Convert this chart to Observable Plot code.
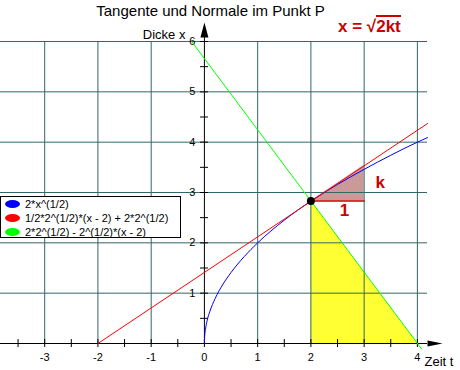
<!DOCTYPE html>
<html>
<head>
<meta charset="utf-8">
<script src="https://cdn.jsdelivr.net/npm/d3@7"></script>
<script src="https://cdn.jsdelivr.net/npm/@observablehq/plot@0.6"></script>
<style>
  body { margin: 0; background: #fff; }
  #wrap { position: relative; width: 460px; height: 370px; font-family: "Liberation Sans", Arial, sans-serif; }
  #legend { position: absolute; left: 0; top: 196px; width: 181px; height: 42px; box-sizing: border-box;
            border: 1px solid #000; background: #fff; font-size: 11px; color: #000; }
  #legend .item { position: relative; height: 14px; line-height: 14px; padding-left: 24px; white-space: nowrap; }
  #legend .sw { position: absolute; left: 4px; top: 3px; width: 15px; height: 8px; border-radius: 50%; }
  #formula { position: absolute; left: 338px; top: 17px; font: bold 17px "Liberation Sans", Arial, sans-serif; color: #cc0000; white-space: nowrap; line-height: 20px; }
  #formula .ov { border-top: 2px solid #cc0000; padding-top: 0px; }
</style>
</head>
<body>
<div id="wrap"></div>
<script>
// ---- data ----
const title = "Tangente und Normale im Punkt P";
const xAxisLabel = "Zeit t";
const yAxisLabel = "Dicke x";

const gridX = [-3, -2, -1, 1, 2, 3, 4];
const gridY = [1, 2, 3, 4, 5, 6];
const xTickValues = [-3.5, -3, -2.5, -2, -1.5, -1, -0.5, 0, 0.5, 1, 1.5, 2, 2.5, 3, 3.5, 4];
const yTickValues = [0.5, 1, 1.5, 2, 2.5, 3, 3.5, 4, 4.5, 5, 5.5, 6];
const xTickLabels = [-3, -2, -1, 0, 1, 2, 3, 4];
const yTickLabels = [1, 2, 3, 4, 5, 6];

// blue curve 2*x^(1/2)
const curveT = [0, 0.002, 0.01, 0.02, 0.05, 0.1, 0.2, 0.35, 0.5, 0.75, 1, 1.5, 2, 2.5, 3, 3.5, 4, 4.19];
const curveX = [0, 0.09, 0.2, 0.28, 0.45, 0.63, 0.89, 1.18, 1.41, 1.73, 2, 2.45, 2.83, 3.16, 3.46, 3.74, 4, 4.09];
// red tangent
const tangentT = [-2, 4.19];
const tangentX = [0, 4.37];
// green normal
const normalT = [-0.24, 4.08];
const normalX = [6, -0.11];
// point P
const pointT = [2];
const pointX = [2.83];
// yellow area under the normal
const fillT = [2, 4];
const fillX = [2.83, 0];
// slope triangle
const slopeT = [2, 3];
const slopeLow = [2.83, 2.83];
const slopeHigh = [2.83, 3.54];
const slopeLabels = ["1", "k"];
const slopeLabelT = [2.63, 3.3];
const slopeLabelX = [2.64, 3.2];

const legendLabels = ["2*x^(1/2)", "1/2*2^(1/2)*(x - 2) + 2*2^(1/2)", "2*2^(1/2) - 2^(1/2)*(x - 2)"];
const legendColors = ["#0000ff", "#ff0000", "#00ff00"];

// ---- build ----
const zip = (a, b) => a.map((v, i) => ({t: v, x: b[i]}));
const curve = zip(curveT, curveX);
const tangent = zip(tangentT, tangentX);
const normal = zip(normalT, normalX);
const fillArea = zip(fillT, fillX);
const slope = slopeT.map((t, i) => ({t, lo: slopeLow[i], hi: slopeHigh[i]}));
const point = zip(pointT, pointX);
const slopeText = slopeLabels.map((s, i) => ({s, t: slopeLabelT[i], x: slopeLabelX[i]}));

const gridColor = "#336666";
const font = "Liberation Sans, Arial, sans-serif";

const arrowUp = {draw(ctx) {
  ctx.moveTo(0, -19); ctx.lineTo(4, -4); ctx.lineTo(-4, -4); ctx.closePath();
  ctx.moveTo(-0.5, -4); ctx.lineTo(0.5, -4); ctx.lineTo(0.5, 0); ctx.lineTo(-0.5, 0); ctx.closePath();
}};
const arrowRight = {draw(ctx) {
  ctx.moveTo(15, 0); ctx.lineTo(0, -3); ctx.lineTo(0, 3); ctx.closePath();
}};

const chart = Plot.plot({
  width: 460,
  height: 370,
  marginLeft: 0,
  marginRight: 33,
  marginTop: 41,
  marginBottom: 27,
  x: {domain: [-3.83, 4.19], axis: null},
  y: {domain: [0, 6], axis: null},
  style: {background: "#fff", overflow: "visible", fontFamily: font},
  marks: [
    Plot.areaY(fillArea, {x: "t", y: "x", fill: "#ffff33", curve: "linear"}),
    Plot.areaY(slope, {x: "t", y1: "lo", y2: "hi", fill: "#cc9999"}),
    Plot.ruleX(gridX, {stroke: gridColor, strokeWidth: 1}),
    Plot.ruleY(gridY, {stroke: gridColor, strokeWidth: 1}),
    Plot.line(slope, {x: "t", y: "lo", stroke: "#cc0000", strokeWidth: 1.5}),
    // axes
    Plot.ruleY([0], {stroke: "#000", strokeWidth: 1}),
    Plot.ruleX([0], {stroke: "#000", strokeWidth: 1}),
    Plot.tickX(xTickValues, {x: d => d, stroke: "#000", insetTop: 298, insetBottom: -4}),
    Plot.tickY(yTickValues, {y: d => d, stroke: "#000", insetLeft: 200, insetRight: 219}),
    Plot.dot([0], {x: d => d, frameAnchor: "top", symbol: arrowUp, fill: "#000", stroke: "none"}),
    Plot.dot([0], {y: d => d, frameAnchor: "right", symbol: arrowRight, fill: "#000", stroke: "none"}),
    Plot.text(xTickLabels, {x: d => d, frameAnchor: "bottom", lineAnchor: "middle", dy: 14, text: d => String(d), fontSize: 11, fill: "#000"}),
    Plot.text(yTickLabels, {y: d => d, x: () => 0, dx: -12, lineAnchor: "middle", text: d => String(d), fontSize: 11, fill: "#000", textAnchor: "middle"}),
    // curves
    Plot.line(curve, {x: "t", y: "x", stroke: legendColors[0], strokeWidth: 1, curve: "monotone-x"}),
    Plot.line(tangent, {x: "t", y: "x", stroke: legendColors[1], strokeWidth: 1}),
    Plot.line(normal, {x: "t", y: "x", stroke: legendColors[2], strokeWidth: 1}),
    Plot.dot(point, {x: "t", y: "x", r: 4, fill: "#000", stroke: "none"}),
    Plot.text(slopeText, {x: "t", y: "x", text: "s", lineAnchor: "middle", fill: "#cc0000", fontSize: 17, fontWeight: "bold"}),
    // titles
    Plot.text([title], {frameAnchor: "top", lineAnchor: "middle", dy: -30, dx: -3.5, fontSize: 15, fill: "#000"}),
    Plot.text([yAxisLabel], {x: () => 0, frameAnchor: "top", lineAnchor: "middle", dx: -19, dy: -7, textAnchor: "end", fontSize: 13, fill: "#000"}),
    Plot.text([xAxisLabel], {frameAnchor: "bottom-right", lineAnchor: "middle", dx: -3, dy: 18, textAnchor: "start", fontSize: 13, fill: "#000"})
  ]
});

const wrap = document.getElementById("wrap");
wrap.appendChild(chart);

const legend = document.createElement("div");
legend.id = "legend";
legendLabels.forEach((lab, i) => {
  const item = document.createElement("div");
  item.className = "item";
  const sw = document.createElement("span");
  sw.className = "sw";
  sw.style.background = legendColors[i];
  item.appendChild(sw);
  item.appendChild(document.createTextNode(lab));
  legend.appendChild(item);
});
wrap.appendChild(legend);

const formula = document.createElement("div");
formula.id = "formula";
formula.innerHTML = 'x = √<span class="ov">2kt</span>';
wrap.appendChild(formula);
</script>
</body>
</html>
